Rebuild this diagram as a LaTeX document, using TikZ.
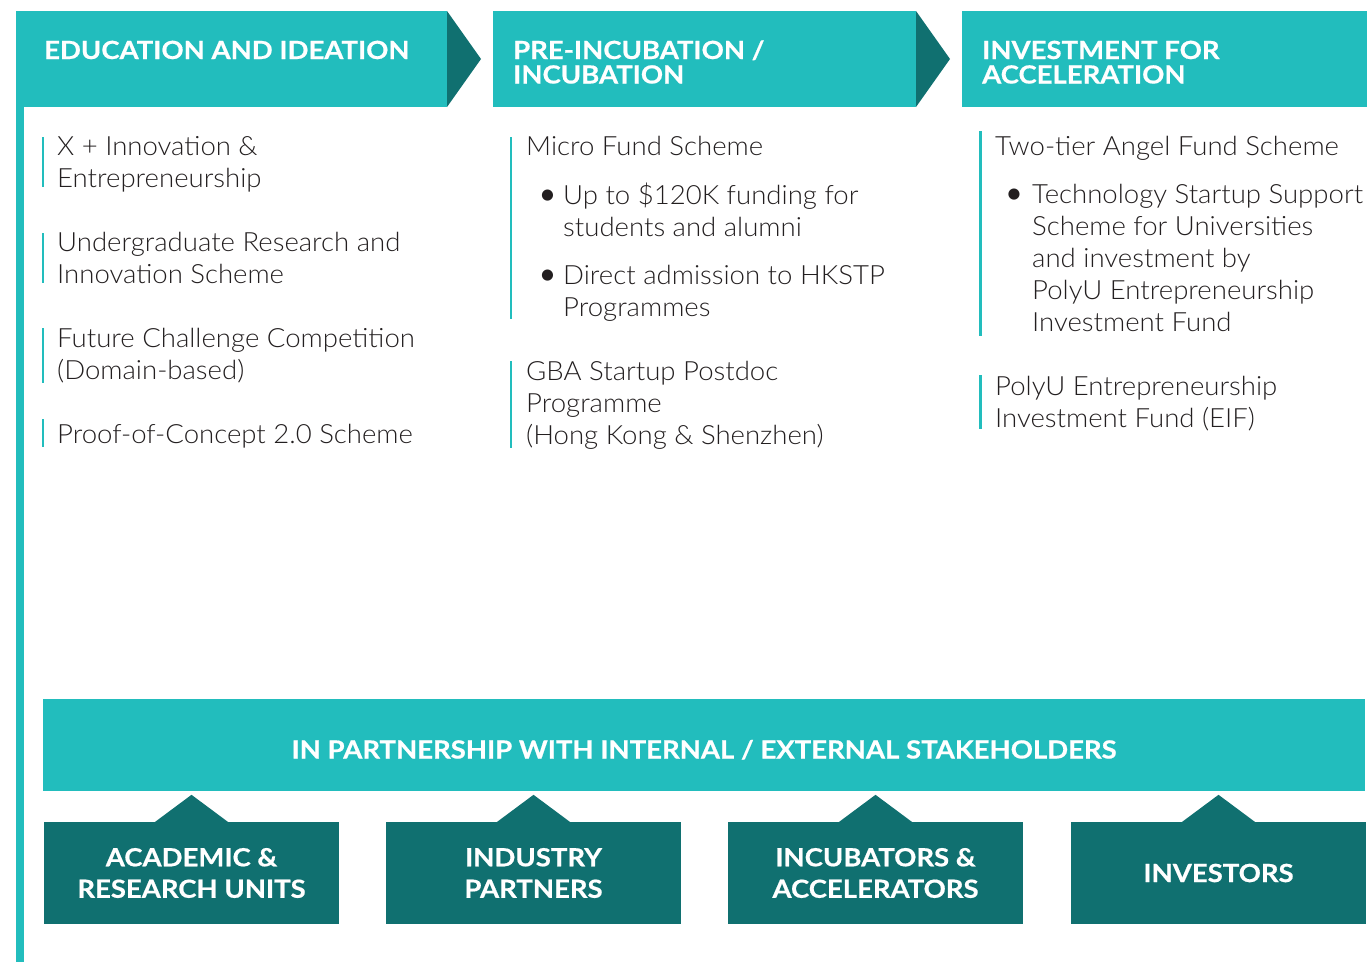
\documentclass[tikz,border=0pt]{standalone}
\usepackage{fontspec}
\setmainfont{Lato}
\newfontfamily\bodyfont{Lato Light}[FakeStretch=1.04]
\newfontfamily\headfont{Lato Bold}[FakeStretch=1.1, FakeBold=0.6]
\usetikzlibrary{calc}
\definecolor{tealA}{RGB}{34,189,189}
\definecolor{tealB}{RGB}{16,112,112}
\definecolor{ink}{RGB}{35,31,32}
\newcommand\ml[1]{\vtop{\halign{##\hfil\cr#1\crcr}}}
\tikzset{
  bodytext/.style={font=\bodyfont\fontsize{26.5}{32}\selectfont, text=ink, inner sep=0pt, anchor=base west},
  bul/.style={font=\normalfont\fontsize{30}{32}\selectfont, text=ink, inner sep=0pt, anchor=base},
  headtext/.style={font=\headfont\fontsize{25}{24.5}\selectfont, text=white, inner sep=0pt, anchor=base west},
  itembar/.style={draw=tealA, line width=2.5pt},
  stakebox/.style={fill=tealB, minimum width=295pt, minimum height=102pt, inner sep=0pt, align=center,
     text=white, font=\headfont\fontsize{25}{31.5}\selectfont},
  bandbox/.style={fill=tealA, minimum width=1322pt, minimum height=92pt, inner sep=0pt},
  bandtext/.style={font=\headfont\fontsize{25}{30}\selectfont, text=white, inner sep=0pt, anchor=base},
}
\begin{document}
\begin{tikzpicture}[x=1pt,y=-1pt]
\useasboundingbox (0,0) rectangle (1367,962);
% left long bar
\fill[tealA] (16,11) rectangle (23.7,962);
% headers
\fill[tealA] (16,11) rectangle (447,107);
\fill[tealB] (447,11) -- (481,59) -- (447,107) -- cycle;
\fill[tealA] (493,11) rectangle (916,107);
\fill[tealB] (916,11) -- (950,59) -- (916,107) -- cycle;
\fill[tealA] (962,11) rectangle (1367,107);
\node[headtext] (h1) at (44,59) {EDUCATION AND IDEATION};
\node[headtext] (h2) at (513,59) {\ml{PRE-INCUBATION /\cr INCUBATION}};
\node[headtext] (h3) at (982,59) {\ml{INVESTMENT FOR\cr ACCELERATION}};
% column 1
\node[bodytext] (n11) at (57,155.5) {\ml{X + Innovation \&\cr Entrepreneurship}};
\node[bodytext] (n12) at (57,251.5) {\ml{Undergraduate Research and\cr Innovation Scheme}};
\node[bodytext] (n13) at (57,347.5) {\ml{Future Challenge Competition\cr (Domain-based)}};
\node[bodytext] (n14) at (57,443.5) {Proof-of-Concept 2.0 Scheme};
\draw[itembar] (43,137) -- (43,187);
\draw[itembar] (43,233) -- (43,283);
\draw[itembar] (43,328) -- (43,383);
\draw[itembar] (43,419) -- (43,447);
% column 2
\node[bodytext] (n21) at (526,155.5) {Micro Fund Scheme};
\node[bul] (u21) at (547.5,204.5) {•};
\node[bodytext] (n22) at (563,204.5) {\ml{Up to \$120K funding for\cr students and alumni}};
\node[bul] (u22) at (547.5,284.5) {•};
\node[bodytext] (n23) at (563,284.5) {\ml{Direct admission to HKSTP\cr Programmes}};
\node[bodytext] (n24) at (526,380.5) {\ml{GBA Startup Postdoc\cr Programme\cr (Hong Kong \& Shenzhen)}};
\draw[itembar] (511,137) -- (511,319);
\draw[itembar] (511,361) -- (511,448);
% column 3
\node[bodytext] (n31) at (995,155.5) {Two-tier Angel Fund Scheme};
\node[bul] (u31) at (1014,203.5) {•};
\node[bodytext] (n32) at (1032,203.5) {\ml{Technology Startup Support\cr Scheme for Universities\cr and investment by\cr PolyU Entrepreneurship\cr Investment Fund}};
\node[bodytext] (n33) at (995,395.5) {\ml{PolyU Entrepreneurship\cr Investment Fund (EIF)}};
\draw[itembar] (980.5,131) -- (980.5,336);
\draw[itembar] (980.5,375) -- (980.5,429);
% band
\node[bandbox] (band) at (704,745) {};
\node[bandtext] (bt) at (704,758.5) {IN PARTNERSHIP WITH INTERNAL / EXTERNAL STAKEHOLDERS};
% stakeholder boxes
\node[stakebox] (b1) at (191.5,873) {ACADEMIC \&\\RESEARCH UNITS};
\node[stakebox] (b2) at (533.5,873) {INDUSTRY\\PARTNERS};
\node[stakebox] (b3) at (875.5,873) {INCUBATORS \&\\ACCELERATORS};
\node[stakebox] (b4) at (1218.5,873) {INVESTORS};
\foreach \b in {b1,b2,b3,b4}{
  \fill[tealB] ($(\b.north)+(-37,0.5)$) -- ($(\b.north)+(0,-27)$) -- ($(\b.north)+(37,0.5)$) -- cycle;
}
\end{tikzpicture}
\end{document}
